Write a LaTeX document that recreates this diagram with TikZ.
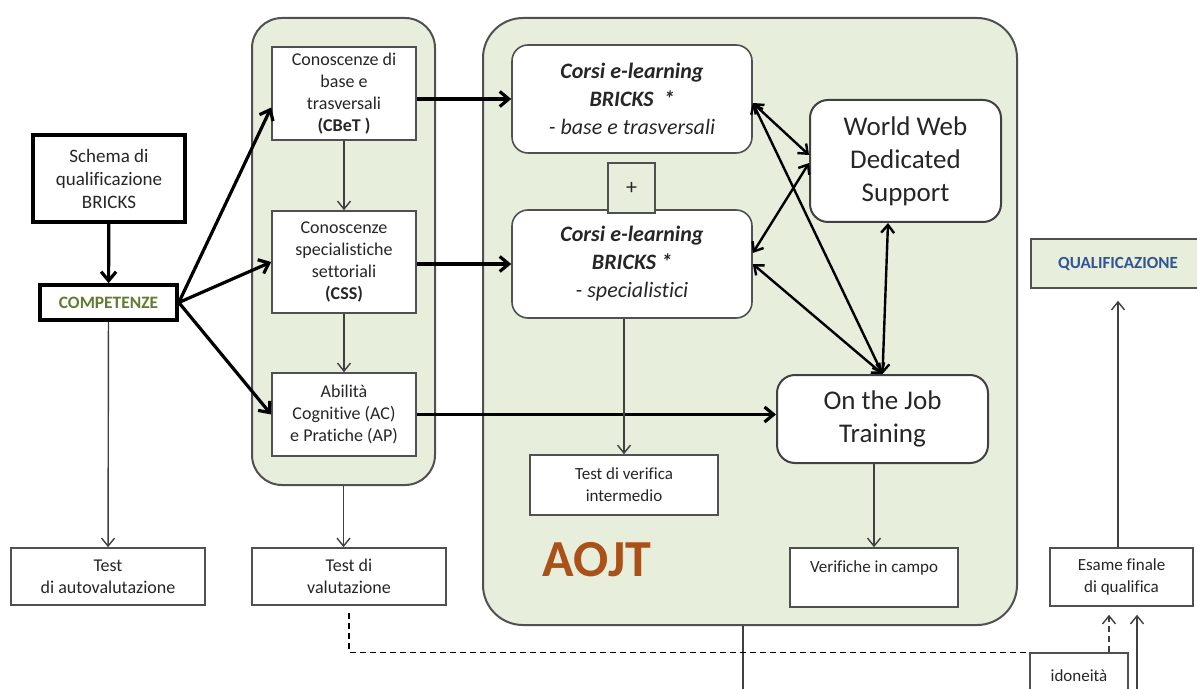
\documentclass[tikz,border=0pt]{standalone}
\usepackage{fontspec}
\setmainfont{Carlito}[Ligatures=NoCommon]
\usetikzlibrary{positioning,arrows.meta}
\definecolor{panelcolor}{RGB}{232,238,220}
\definecolor{edgecolor}{RGB}{80,80,80}
\definecolor{compcolor}{RGB}{95,125,50}
\definecolor{qualcolor}{RGB}{47,85,151}
\definecolor{aojtcolor}{RGB}{170,80,25}

\begin{document}
\begin{tikzpicture}[
    x=0.5pt, y=-0.5pt,
    box/.style={rectangle, draw=edgecolor, fill=white, line width=0.8pt,
        align=center, inner sep=1pt, text=black!85,
        font=\fontsize{9}{11}\selectfont},
    boldbox/.style={box, draw=black, line width=1.8pt},
    panel/.style={rectangle, rounded corners=#1, draw=edgecolor,
        fill=panelcolor, line width=1pt},
    course/.style={box, rounded corners=8pt, font=\fontsize{11}{14}\selectfont},
    support/.style={box, rounded corners=9pt, draw=black!75, line width=1pt,
        font=\fontsize{13.5}{16.5}\selectfont},
    thinarrow/.style={-{Straight Barb[length=4pt,width=6.5pt]}, line width=0.7pt, draw=black!75},
    heavy/.style={-{Straight Barb[length=4.5pt,width=7.5pt]}, line width=1.6pt},
    link/.style={{Straight Barb[length=4pt,width=6.5pt]}-{Straight Barb[length=4pt,width=6.5pt]}, line width=1.2pt}
    ]

\useasboundingbox (0,0) rectangle (1197,689);

% the two green panels
\node[panel=15pt, minimum width=91.5pt, minimum height=233.5pt] (panelA) at (343.5,251.5) {};
\node[panel=20pt, minimum width=267pt, minimum height=303.5pt] (panelB) at (750,321.5) {};

% left column
\node[boldbox, minimum width=76pt, minimum height=43.5pt,
    font=\fontsize{9.5}{11.5}\selectfont] (schema) at (109,178.5) {
	Schema di\\qualificazione\\BRICKS
};
\node[boldbox, minimum width=68.5pt, minimum height=17.5pt, text=compcolor,
    font=\fontsize{8.7}{10}\selectfont\bfseries] (comp) at (108.5,302.5) {COMPETENZE};
\node[box, minimum width=97pt, minimum height=28.5pt] (autov) at (108,576.5) {
	Test\\di autovalutazione
};

% knowledge column
\node[box, minimum width=72pt, minimum height=46.5pt] (cbet) at (344,93.5) {
	Conoscenze di\\base e\\trasversali\\\textbf{(CBeT )}
};
\node[box, minimum width=72pt, minimum height=51pt] (css) at (344,262) {
	Conoscenze\\specialistiche\\settoriali\\\textbf{(CSS)}
};
\node[box, minimum width=72pt, minimum height=41.5pt] (abil) at (344,414.5) {
	Abilità\\Cognitive (AC)\\e Pratiche (AP)
};
\node[box, minimum width=97pt, minimum height=28.5pt] (valut) at (349,576.5) {
	Test di\\valutazione
};

% AOJT panel
\node[course, minimum width=120pt, minimum height=54pt] (base) at (632,99) {
	\textbf{\textit{Corsi e-learning}}\\
	\textbf{\textit{BRICKS\ \ *}}\\
	\textit{- base e trasversali}
};
\node[course, minimum width=120pt, minimum height=54pt] (spec) at (632,264) {
	\textbf{\textit{Corsi e-learning}}\\
	\textbf{\textit{BRICKS *}}\\
	\textit{- specialistici}
};
\node[box, fill=panelcolor, minimum width=23.5pt, minimum height=25pt,
    font=\fontsize{11}{13}\selectfont] (plus) at (631.5,188) {+};
\node[support, minimum width=95.5pt, minimum height=61pt] (wwds) at (905.5,161) {
	World Web\\Dedicated\\Support
};
\node[support, minimum width=105.5pt, minimum height=44pt] (ojt) at (882.5,419) {
	On the Job\\Training
};
\node[box, minimum width=94pt, minimum height=30pt,
    font=\fontsize{8.5}{11}\selectfont] (verint) at (624,485) {
	Test di verifica\\intermedio
};
\node[box, minimum width=84pt, minimum height=29.5pt,
    font=\fontsize{8.5}{11}\selectfont] (verc) at (874,577.5) {
	Verifiche in campo\\\mbox{}
};
\node[text=aojtcolor, font=\fontsize{26}{30}\selectfont\bfseries] (aojt) at (597,560) {AOJT};

% right column
\node[box, fill=panelcolor, minimum width=87pt, minimum height=24.5pt, text=qualcolor,
    font=\fontsize{8.5}{10}\selectfont\bfseries] (qualif) at (1118,263.5) {QUALIFICAZIONE};
\node[box, minimum width=71.5pt, minimum height=29pt,
    font=\fontsize{8.5}{11}\selectfont] (esame) at (1121.5,577) {
	Esame finale\\di qualifica
};
\node[box, minimum width=49pt, minimum height=23pt,
    font=\fontsize{8.5}{11}\selectfont] (idon) at (1079,676) {idoneità};

\coordinate (aojtout) at (743,689);
\coordinate (examin) at (1137,689);

\draw[heavy] (schema) -- (comp);
\draw[thinarrow] (comp) -- (autov);
\draw[heavy] (comp.east) -- ([yshift=-7pt]cbet.west);
\draw[heavy] (comp.east) -- (css.west);
\draw[heavy] (comp.east) -- (abil.west);
\draw[thinarrow] (cbet) -- (css);
\draw[thinarrow] (css) -- (abil);
\draw[thinarrow] (panelA.south) -- (panelA.south |- valut.north);

\draw[heavy] (base.west -| cbet.east) -- (base.west);
\draw[heavy] (spec.west -| css.east) -- (spec.west);
\draw[heavy] (abil.east) -- (abil.east -| ojt.west);
\draw[thinarrow] (verint.north |- spec.south) -- (verint.north);
\draw[thinarrow] (verc.north |- ojt.south) -- (verc.north);

\draw[link] ([yshift=-2pt]base.east) -- ([yshift=3pt]wwds.west);
\draw[link] ([yshift=5.5pt]spec.east) -- ([yshift=-1pt]wwds.west);
\draw[link] ([yshift=-2pt]base.east) -- (ojt.north);
\draw[link] (spec.east) -- (ojt.north);
\draw[link] ([xshift=-8.75pt]wwds.south) -- (ojt.north);

\draw[line width=0.7pt, draw=black!75] (aojtout |- panelB.south) -- (aojtout);
\draw[densely dashed, line width=0.7pt] ([yshift=-3.5pt]valut.south) |- (idon.north west);
\draw[thinarrow, densely dashed, shorten >=4pt] ([xshift=15pt]idon.north) -- ([xshift=15pt]idon.north |- esame.south);
\draw[thinarrow, shorten >=4pt] (examin) -- (examin |- esame.south);
\draw[thinarrow, shorten >=6pt] (qualif.south |- esame.north) -- (qualif.south);

\end{tikzpicture}
\end{document}
